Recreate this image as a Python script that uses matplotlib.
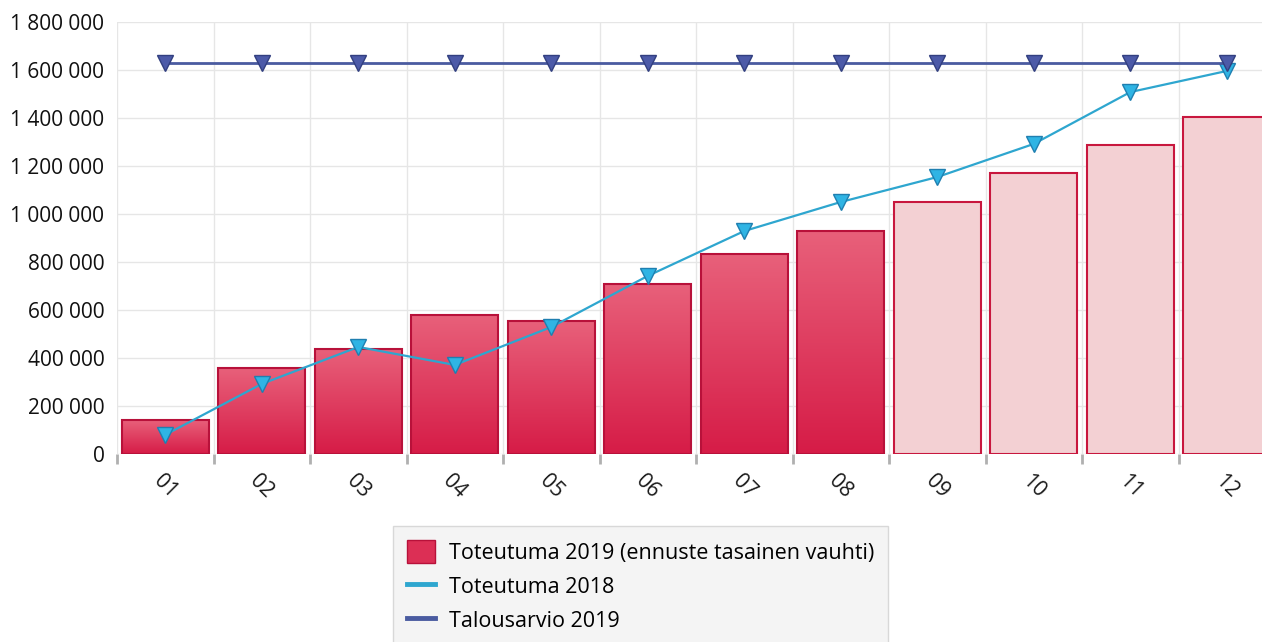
import numpy as np
import matplotlib.pyplot as plt
from matplotlib.ticker import FuncFormatter, MultipleLocator
from matplotlib.patches import Patch
from matplotlib.lines import Line2D

plt.rcParams['font.family'] = ['Open Sans', 'DejaVu Sans']

months = ['01', '02', '03', '04', '05', '06', '07', '08', '09', '10', '11', '12']
toteutuma_2019 = [141000, 358000, 437000, 579000, 554000, 708000, 833000, 929000,
                  1050000, 1171000, 1287000, 1404000]
ennuste = [False] * 8 + [True] * 4
toteutuma_2018 = [80000, 292000, 446000, 371000, 529000, 742000, 929000, 1050000,
                  1154000, 1292000, 1508000, 1596000]
talousarvio_2019 = [1630000] * 12

W, H = 1262, 642
fig = plt.figure(figsize=(W / 100, H / 100), dpi=100)
ax = fig.add_axes([117 / W, 1 - 454 / H, 1 - 117 / W, (454 - 22) / H])

x = np.arange(len(months))
bars = ax.bar(x, toteutuma_2019, width=0.9, zorder=2)

# gradient fill for actual bars, flat light fill for forecast
grad = np.linspace(0, 1, 100).reshape(-1, 1)
cmap = plt.matplotlib.colors.LinearSegmentedColormap.from_list('r', ['#d61c47', '#e8607a'])
for b, fc in zip(bars, ennuste):
    if fc:
        b.set_facecolor('#f3d0d3')
        b.set_edgecolor('#c8173e')
        b.set_linewidth(1.5)
    else:
        b.set_facecolor('none')
        b.set_edgecolor('#b8113a')
        b.set_linewidth(1.5)
        x0, y0 = b.get_x(), b.get_y()
        im = ax.imshow(grad, cmap=cmap, aspect='auto', origin='lower',
                       extent=[x0, x0 + b.get_width(), y0, y0 + b.get_height()],
                       zorder=1.9)
        im.set_clip_path(b)

ax.plot(x, toteutuma_2018, color='#2ea6cf', lw=1.6, marker='v', markersize=12,
        markerfacecolor='#2fb4e4', markeredgecolor='#1f7fb0', zorder=3)
ax.plot(x, talousarvio_2019, color='#4a5ba0', lw=2, marker='v', markersize=12,
        markerfacecolor='#4c5aa8', markeredgecolor='#323f80', zorder=3)

ax.yaxis.set_major_locator(MultipleLocator(200000))
ax.yaxis.set_major_formatter(FuncFormatter(lambda v, p: f'{int(v):,}'.replace(',', ' ')))

ax.set_xticks(x)
ax.set_xticklabels(months, rotation=-45, ha='center', va='top')
ax.set_xticks(np.arange(-0.5, 12, 1), minor=True)
ax.set_xlim(-0.5, 11.365)
ax.set_ylim(0, 1800000)
ax.tick_params(axis='x', which='major', length=0, pad=12, labelsize=15, labelcolor='#1a1a1a')
ax.tick_params(axis='x', which='minor', length=7, width=2, color='#b0b0b0')
ax.tick_params(axis='y', length=0, pad=9, labelsize=15, labelcolor='#111111')

ax.grid(axis='y', color='#e6e6e6', lw=1, zorder=0)
ax.grid(axis='x', which='minor', color='#e6e6e6', lw=1, zorder=0)
ax.set_axisbelow(True)
for s in ax.spines.values():
    s.set_visible(False)

handles = [Patch(facecolor='#dc2f55', edgecolor='#b8113a'),
           Line2D([], [], color='#2ea6cf', lw=3.5),
           Line2D([], [], color='#4a5ba0', lw=3.5)]
labels = ['Toteutuma 2019 (ennuste tasainen vauhti)', 'Toteutuma 2018', 'Talousarvio 2019']
leg = fig.legend(handles, labels, loc='upper left', bbox_to_anchor=(393 / W, 1 - 526 / H),
                 fontsize=15.5, frameon=True, fancybox=False, handlelength=1.3,
                 handleheight=1.25, handletextpad=0.65, labelspacing=0.5, borderpad=0.65,
                 borderaxespad=0)
leg.get_frame().set_facecolor('#f2f2f2')
leg.get_frame().set_edgecolor('#d0d0d0')

fig.savefig('out.png', dpi=100)
